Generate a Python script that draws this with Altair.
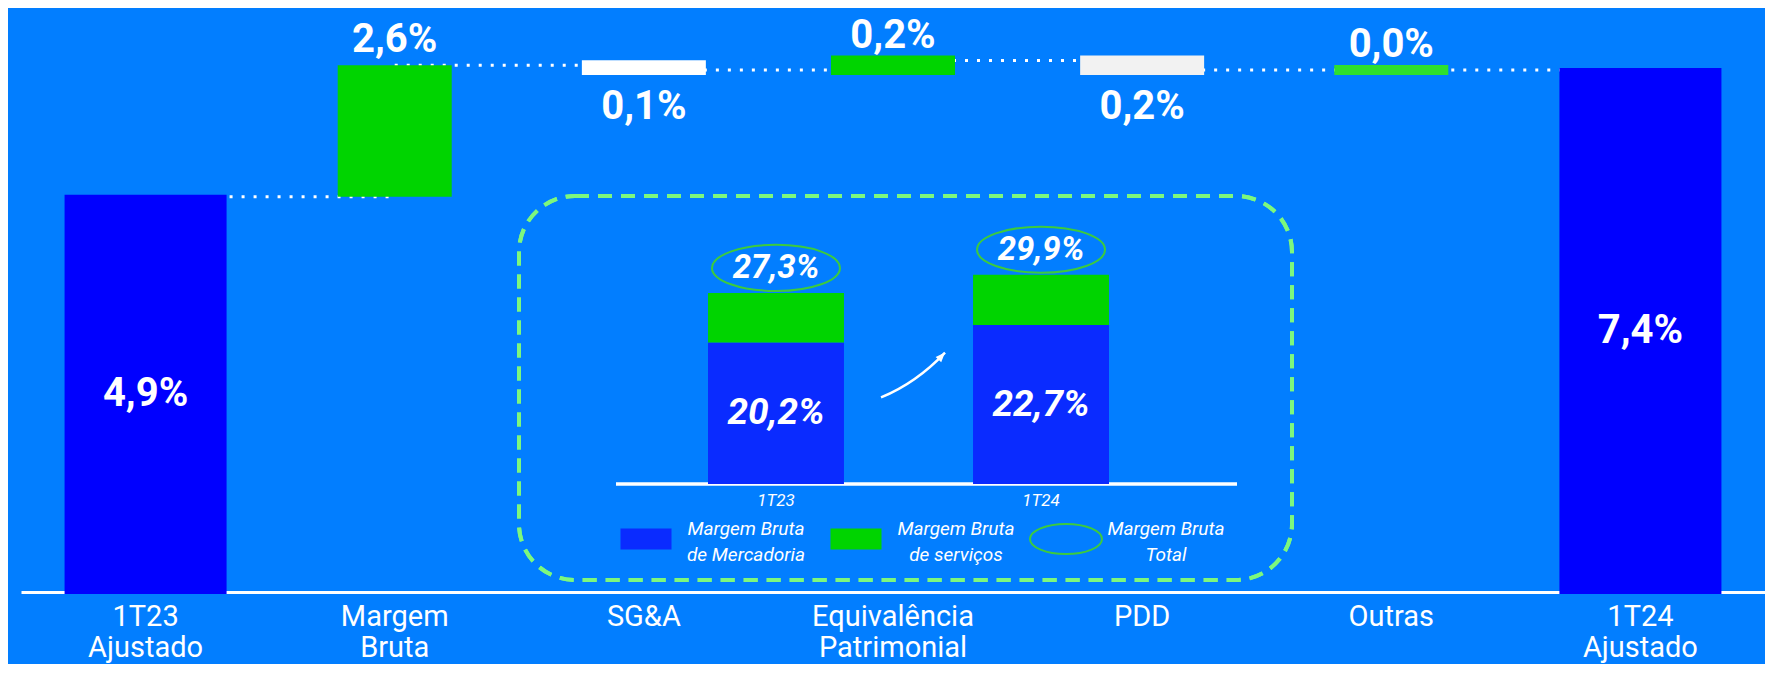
import altair as alt
import pandas as pd

# ---------------- data ----------------
wf_categories = ["1T23 Ajustado", "Margem Bruta", "SG&A", "Equivalência Patrimonial",
                 "PDD", "Outras", "1T24 Ajustado"]
wf_values = [4.9, 2.6, -0.1, 0.2, -0.2, 0.0, 7.4]
wf_is_total = [True, False, False, False, False, False, True]

inset_periods = ["1T23", "1T24"]
inset_mercadoria = [20.2, 22.7]
inset_total = [27.3, 29.9]
inset_series = ["Margem Bruta de Mercadoria", "Margem Bruta de serviços"]

legend_labels = ["Margem Bruta\nde  Mercadoria", "Margem Bruta\nde serviços", "Margem Bruta\nTotal"]
legend_kinds = ["rect", "rect", "ellipse"]

# ---------------- style ----------------
BG = "#027EFF"
WHITE = "#FFFFFF"
TOTAL_BLUE = "#0000FF"
INSET_BLUE = "#0A2BFF"
GREEN = "#00D400"
OUTRAS_GREEN = "#2EE02E"
GREY = "#F2F2F2"
ELLIPSE_GREEN = "#3DCB3D"
BOX_GREEN = "#7DF77D"
bar_colors = [TOTAL_BLUE, GREEN, WHITE, GREEN, GREY, OUTRAS_GREEN, TOTAL_BLUE]
FONT = "Roboto"
EXP = 0.675


def fmt(v):
    return f"{abs(v):.1f}".replace(".", ",") + "%"


def ellipse_path(k):
    c = 0.5523
    return (f"M-1,0C-1,{-c*k:.3f} {-c:.3f},{-k:.3f} 0,{-k:.3f}"
            f"C{c:.3f},{-k:.3f} 1,{-c*k:.3f} 1,0"
            f"C1,{c*k:.3f} {c:.3f},{k:.3f} 0,{k:.3f}"
            f"C{-c:.3f},{k:.3f} -1,{c*k:.3f} -1,0Z")


RECT_PATH = "M-1,-0.41H1V0.41H-1Z"
ARROW_LINE = "M-1,0.7Q0.1,0.25 1,-0.7"
ARROW_HEAD = "M1,-0.7L0.707,-0.565L0.881,-0.399Z"

# ---------------- waterfall table ----------------
rows = []
run = 0.0
for cat, v, tot in zip(wf_categories, wf_values, wf_is_total):
    if tot:
        start, end = 0.0, v
    else:
        start, end = run, round(run + v, 4)
    run = end
    rows.append(dict(cat=cat, start=start, end=end, lo=min(start, end), hi=max(start, end),
                     label=fmt(v),
                     kind="total" if tot else ("up" if v >= 0 else "down")))
wf = pd.DataFrame(rows)
conn = pd.DataFrame({"src": wf_categories[:-1], "dst": wf_categories[1:],
                     "level": [r["end"] for r in rows[:-1]]})


def xs():
    return alt.Scale(type="band", domain=wf_categories, paddingInner=0, paddingOuter=0)


def ys():
    return alt.Scale(type="pow", exponent=EXP, domain=[0, 8.74], nice=False, zero=True)


def cs():
    return alt.Scale(domain=wf_categories, range=bar_colors)


x_axis = alt.Axis(domainColor=WHITE, domainWidth=3, ticks=False, grid=False,
                  labelColor=WHITE, labelFont=FONT, labelFontSize=29, labelLineHeight=31,
                  labelPadding=10, labelAngle=0, labelLimit=400, labelOverlap=False,
                  labelExpr="split(datum.label, ' ')")


def x_plain():
    return alt.X("cat:N", scale=xs(), axis=None, title=None, sort=wf_categories)


connectors = alt.Chart(conn).mark_rule(color=WHITE, strokeWidth=3, strokeDash=[3, 9]).encode(
    x=alt.X("src:N", scale=xs(), axis=None, title=None),
    x2="dst:N",
    y=alt.Y("level:Q", scale=ys(), axis=None, title=None),
)

bars_total = alt.Chart(wf).transform_filter("datum.kind == 'total'").mark_bar(
    width=158, strokeWidth=4).encode(
    x=alt.X("cat:N", scale=xs(), axis=x_axis, title=None, sort=wf_categories),
    y=alt.Y("lo:Q", scale=ys(), axis=None, title=None),
    y2="hi:Q",
    fill=alt.Fill("cat:N", scale=cs(), legend=None),
    stroke=alt.Stroke("cat:N", scale=cs(), legend=None),
)

bars_delta = alt.Chart(wf).transform_filter("datum.kind != 'total'").mark_bar(
    width=114).encode(
    x=x_plain(),
    y=alt.Y("lo:Q", scale=ys(), axis=None, title=None),
    y2="hi:Q",
    fill=alt.Fill("cat:N", scale=cs(), legend=None),
    stroke=alt.Stroke("cat:N", scale=cs(), legend=None),
    strokeWidth=alt.condition("abs(datum.end - datum.start) < 1", alt.value(10), alt.value(0)),
)

lab_up = alt.Chart(wf).transform_filter("datum.kind == 'up'").mark_text(
    font=FONT, fontSize=40, fontWeight="bold", color=WHITE, baseline="alphabetic", dy=-13).encode(
    x=x_plain(), y=alt.Y("hi:Q", scale=ys(), axis=None), text="label:N")

lab_down = alt.Chart(wf).transform_filter("datum.kind == 'down'").mark_text(
    font=FONT, fontSize=40, fontWeight="bold", color=WHITE, baseline="top", dy=17).encode(
    x=x_plain(), y=alt.Y("lo:Q", scale=ys(), axis=None), text="label:N")

lab_total = alt.Chart(wf).transform_filter("datum.kind == 'total'").transform_calculate(
    mid=f"datum.end * pow(0.5, {1/EXP})").mark_text(
    font=FONT, fontSize=40, fontWeight="bold", color=WHITE, baseline="middle").encode(
    x=x_plain(), y=alt.Y("mid:Q", scale=ys(), axis=None), text="label:N")

# ---------------- inset ----------------
in_rows = []
for p, m, t in zip(inset_periods, inset_mercadoria, inset_total):
    in_rows.append(dict(period=p, series=inset_series[0], value=m, order=0))
    in_rows.append(dict(period=p, series=inset_series[1], value=round(t - m, 1), order=1))
inset_df = pd.DataFrame(in_rows)
tot_df = pd.DataFrame({"period": inset_periods, "merc": inset_mercadoria, "total": inset_total,
                       "merc_label": [fmt(v) for v in inset_mercadoria],
                       "total_label": [fmt(v) for v in inset_total]})


def xis():
    return alt.Scale(type="band", domain=inset_periods, range=[687, 1088],
                     paddingInner=0.487, paddingOuter=0)


def yis():
    return alt.Scale(domain=[0, 30], range=[476, 266], nice=False, zero=True)


def x_in():
    return alt.X("period:N", scale=xis(), axis=None, title=None)


box = alt.Chart(tot_df).mark_rect(fill=BG, fillOpacity=0, stroke=BOX_GREEN, strokeWidth=4,
                                  strokeDash=[14, 9], cornerRadius=56).encode(
    x=alt.value(498), x2=alt.value(1271), y=alt.value(188), y2=alt.value(572))

in_base = alt.Chart(tot_df).transform_calculate(zero="0").mark_rule(
    color=WHITE, strokeWidth=3).encode(
    x=alt.value(595), x2=alt.value(1216), y=alt.Y("zero:Q", scale=yis(), axis=None))

in_bars = alt.Chart(inset_df).mark_bar().encode(
    x=x_in(),
    y=alt.Y("value:Q", stack="zero", scale=yis(), axis=None, title=None),
    color=alt.Color("series:N", scale=alt.Scale(domain=inset_series, range=[INSET_BLUE, GREEN]),
                    legend=None),
    order=alt.Order("order:Q"),
)

in_merc_lab = alt.Chart(tot_df).transform_calculate(half="datum.merc / 2").mark_text(
    font=FONT, fontSize=37, fontWeight="bold", fontStyle="italic", color=WHITE,
    baseline="middle").encode(x=x_in(), y=alt.Y("half:Q", scale=yis(), axis=None),
                              text="merc_label:N")

in_ellipse = alt.Chart(tot_df).mark_point(shape=ellipse_path(0.36), size=128 ** 2, filled=False,
                                          stroke=ELLIPSE_GREEN, strokeWidth=2, opacity=1,
                                          yOffset=-25).encode(
    x=x_in(), y=alt.Y("total:Q", scale=yis(), axis=None))

in_tot_lab = alt.Chart(tot_df).mark_text(
    font=FONT, fontSize=33, fontWeight="bold", fontStyle="italic", color=WHITE,
    baseline="middle", yOffset=-25).encode(
    x=x_in(), y=alt.Y("total:Q", scale=yis(), axis=None), text="total_label:N")

in_xlab = alt.Chart(tot_df).transform_calculate(zero="0").mark_text(
    font=FONT, fontSize=17, fontStyle="italic", color=WHITE, baseline="middle", dy=17).encode(
    x=x_in(), y=alt.Y("zero:Q", scale=yis(), axis=None), text="period:N")

arrow_line = alt.Chart(tot_df).transform_filter("datum.period == '1T24'").mark_point(
    shape=ARROW_LINE, size=64 ** 2, filled=False, stroke=WHITE, strokeWidth=2.5, opacity=1,
    xOffset=-128).encode(x=x_in(), y=alt.value(367))
arrow_head = alt.Chart(tot_df).transform_filter("datum.period == '1T24'").mark_point(
    shape=ARROW_HEAD, size=64 ** 2, filled=True, fill=WHITE, strokeWidth=0, opacity=1,
    xOffset=-128).encode(x=x_in(), y=alt.value(367))

# ---------------- inset legend ----------------
leg_df = pd.DataFrame({"label": legend_labels, "kind": legend_kinds})


def x_leg():
    return alt.X("label:N", scale=alt.Scale(type="point", domain=legend_labels, range=[625, 1045],
                                            padding=0), axis=None, title=None)


leg_rect = alt.Chart(leg_df).transform_filter("datum.kind == 'rect'").mark_point(
    shape=RECT_PATH, size=51 ** 2, filled=True, opacity=1, strokeWidth=0).encode(
    x=x_leg(), y=alt.value(531),
    color=alt.Color("label:N", scale=alt.Scale(domain=legend_labels[:2], range=[INSET_BLUE, GREEN]),
                    legend=None))
leg_ell = alt.Chart(leg_df).transform_filter("datum.kind == 'ellipse'").mark_point(
    shape=ellipse_path(0.42), size=72 ** 2, filled=False, stroke=ELLIPSE_GREEN, strokeWidth=2,
    opacity=1).encode(x=x_leg(), y=alt.value(531))
leg_text = alt.Chart(leg_df).mark_text(
    font=FONT, fontSize=19, fontStyle="italic", color=WHITE, lineBreak="\n", lineHeight=26,
    align="center", baseline="middle", dx=100).encode(
    x=x_leg(), y=alt.value(521), text="label:N")

chart = alt.layer(
    connectors, bars_total, bars_delta, lab_up, lab_down, lab_total,
    box, in_base, in_bars, in_merc_lab, in_ellipse, in_tot_lab, in_xlab, arrow_line, arrow_head,
    leg_rect, leg_ell, leg_text,
).resolve_scale(
    x="independent", y="independent", color="independent", fill="independent",
    stroke="independent").properties(
    width=1744, height=584,
    padding={"left": 13, "top": 0, "right": 0, "bottom": 72},
    autosize=alt.AutoSizeParams(type="none"),
    background=BG,
).configure_view(strokeWidth=0)

chart.save("out.html", embed_options={"renderer": "svg", "actions": False})
